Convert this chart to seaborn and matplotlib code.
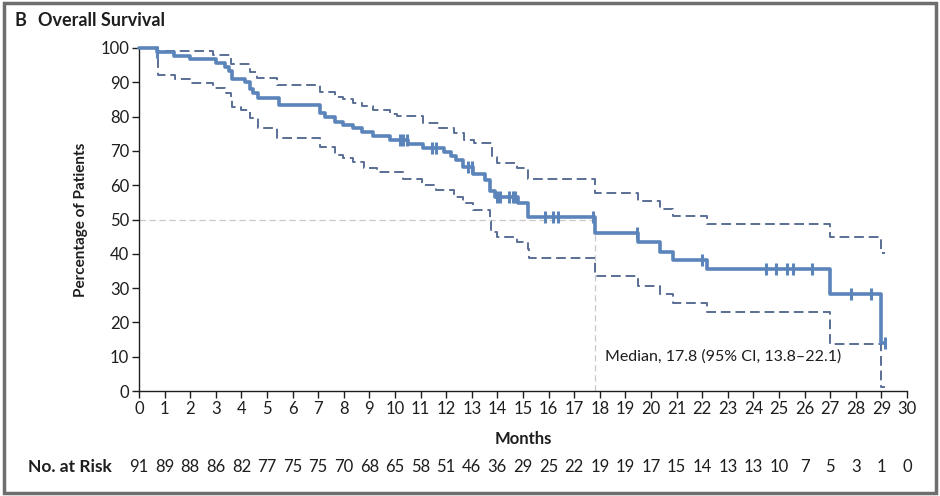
import matplotlib
matplotlib.use("Agg")
import matplotlib.pyplot as plt
import numpy as np
import pandas as pd
import seaborn as sns

# Kaplan-Meier estimate (time of step, survival after step)
km_t = [0, 0.7, 1.35, 2.0, 3.0, 3.35, 3.5, 3.65, 4.15, 4.35, 4.45, 4.65, 5.45,
        7.07, 7.27, 7.66, 7.97, 8.36, 8.7, 9.15, 9.8, 10.5, 11.1, 11.9, 12.2,
        12.4, 12.67, 13.05, 13.5, 13.7, 13.9, 14.8, 15.2, 17.8, 19.5, 20.35,
        20.86, 22.2, 27.0, 29.0, 29.15]
km_s = [100, 98.9, 97.8, 96.7, 95.6, 94.5, 93.2, 91.0, 90.0, 88.0, 86.8, 85.5, 83.4,
        81.0, 79.8, 78.5, 77.6, 76.6, 75.6, 74.2, 73.2, 72.0, 70.8, 69.6, 68.4,
        67.3, 65.3, 63.2, 61.6, 58.2, 56.7, 54.8, 50.8, 46.0, 43.5, 40.6,
        38.2, 35.6, 28.2, 14.0, 14.0]

# 95% confidence band
up_t = [0, 0.7, 2.9, 3.6, 4.35, 4.6, 5.4, 7.07, 7.66, 7.97, 8.36, 8.7, 9.15,
        9.8, 10.07, 11.1, 11.7, 12.3, 12.7, 13.1, 13.8, 14.0, 14.75, 15.2,
        17.8, 19.5, 20.35, 20.86, 22.2, 27.0, 29.0, 29.15]
up_s = [100, 99.0, 98.0, 95.3, 93.0, 91.2, 89.3, 87.3, 85.8, 85.0, 84.1, 83.2, 81.9,
        80.9, 80.2, 78.0, 76.6, 75.1, 73.2, 72.2, 68.3, 66.6, 64.9, 61.7,
        57.8, 55.4, 53.0, 51.0, 48.6, 45.0, 40.3, 40.3]
lo_t = [0, 0.74, 1.4, 2.0, 2.9, 3.35, 3.6, 3.65, 4.0, 4.35, 4.65, 5.4, 7.07,
        7.66, 7.97, 8.36, 8.8, 9.3, 10.3, 11.05, 11.6, 12.3, 12.67, 13.05,
        13.7, 13.75, 14.0, 14.75, 15.2, 15.25, 17.8, 19.5, 20.35, 20.86, 22.2,
        27.0, 29.0, 29.15]
lo_s = [100, 92.1, 91.1, 89.7, 88.2, 86.8, 85.0, 82.9, 82.0, 79.6, 76.6, 73.7, 71.2,
        68.8, 67.8, 66.7, 64.9, 63.9, 61.7, 60.0, 58.6, 56.6, 54.7, 52.8,
        49.7, 46.5, 44.8, 43.5, 41.3, 38.7, 33.4, 30.7, 28.3, 25.8, 22.9,
        13.6, 1.3, 1.3]

# censored observations
cens_t = [0.7, 10.2, 10.3, 10.45, 11.45, 11.6, 12.85, 13.0, 14.0, 14.1, 14.45,
          14.6, 14.7, 15.86, 16.17, 16.37, 17.73, 19.45, 22.0, 24.5, 24.9,
          25.3, 25.55, 26.3, 27.8, 28.6, 29.15]

months = list(range(31))
at_risk = [91, 89, 88, 86, 82, 77, 75, 75, 70, 68, 65, 58, 51, 46, 36, 29, 25,
           22, 19, 19, 17, 15, 14, 13, 13, 10, 7, 5, 3, 1, 0]
median = 17.8

blue = "#5a84ba"
dash_col = "#5a6f96"
ink = "#1e1e1e"

sns.set_style("white")
plt.rcParams['font.family'] = ['Lato', 'DejaVu Sans']

fig = plt.figure(figsize=(9.4, 4.96), dpi=100)
ax = fig.add_axes([139 / 940, 105 / 496, 768 / 940, 343 / 496])

# median reference lines
ax.plot([0, median], [50, 50], color="#c8c8c8", lw=0.9, ls=(0, (5, 3)), zorder=1)
ax.plot([median, median], [0, 50], color="#c8c8c8", lw=0.9, ls=(0, (5, 3)), zorder=1)

sns.lineplot(x=up_t, y=up_s, drawstyle="steps-post", color=dash_col, lw=1.4,
             ls=(0, (5, 2.5)), estimator=None, ax=ax, clip_on=False)
sns.lineplot(x=lo_t, y=lo_s, drawstyle="steps-post", color=dash_col, lw=1.4,
             ls=(0, (5, 2.5)), estimator=None, ax=ax, clip_on=False)
sns.lineplot(x=km_t, y=km_s, drawstyle="steps-post", color=blue, lw=2.6,
             estimator=None, ax=ax, clip_on=False, zorder=3)

# censor marks placed on the step curve
idx = np.searchsorted(km_t, cens_t, side="right") - 1
cens_df = pd.DataFrame({"t": cens_t, "s": np.array(km_s)[idx]})
sns.scatterplot(data=cens_df, x="t", y="s", marker="|", s=70, color=blue,
                linewidth=2.2, ax=ax, clip_on=False, zorder=4)

ax.set_xlim(0, 30)
ax.set_ylim(0, 100)
ax.set_xticks(months)
ax.set_yticks(range(0, 101, 10))
sns.despine(ax=ax)
for sp in ["left", "bottom"]:
    ax.spines[sp].set_color(ink)
    ax.spines[sp].set_linewidth(1.0)
ax.tick_params(axis="both", direction="out", length=5, width=1.0,
               color=ink, labelsize=12, labelcolor=ink, pad=2,
               bottom=True, left=True)
ax.set_xlabel("Months", fontsize=12, fontweight="bold", labelpad=10, color=ink)
ax.set_ylabel("Percentage of Patients", fontsize=11, fontweight="bold",
              labelpad=9, color=ink)

ax.text(18.2, 10, "Median, 17.8 (95% CI, 13.8\u201322.1)", fontsize=11.5,
        color=ink, va="center")

fig.text(15 / 940, 1 - 20 / 496, "B", fontsize=13, fontweight="bold",
         va="center", color=ink)
fig.text(38 / 940, 1 - 20 / 496, "Overall Survival", fontsize=13,
         fontweight="bold", va="center", color=ink)

# numbers at risk
ry = 1 - 467 / 496
fig.text(28 / 940, ry, "No. at Risk", fontsize=12.5, fontweight="bold",
         va="center", color=ink)
for m, n in zip(months, at_risk):
    xf = ax.transData.transform((m, 0))[0] / fig.bbox.width
    fig.text(xf, ry, str(n), fontsize=12, ha="center", va="center", color=ink)

# outer frame
fig.patches.append(plt.Rectangle((0.004, 0.006), 0.992, 0.988, transform=fig.transFigure,
                                 fill=False, edgecolor="#6e6e6e", lw=2.5))

fig.savefig("out.png", dpi=100)
